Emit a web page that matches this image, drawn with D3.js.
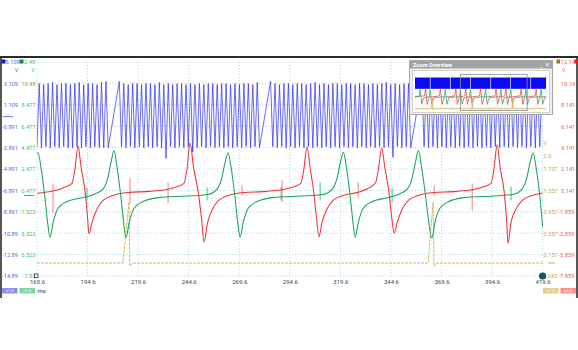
<!DOCTYPE html>
<html>
<head>
<meta charset="utf-8">
<script src="https://cdn.jsdelivr.net/npm/d3@7/dist/d3.min.js"></script>
<style>
  html, body { margin: 0; padding: 0; background: #fff; }
  svg { display: block; }
</style>
</head>
<body>
<svg id="scope" width="578" height="350"></svg>
<script>
// ---------------- data ----------------
const timeTicks = [169.6, 194.6, 219.6, 244.6, 269.6, 294.6, 319.6, 344.6, 369.6, 394.6, 419.6];

const blueTickLabels   = ["3.109", "1.109", "-0.891", "-2.891", "-4.891", "-6.891", "-8.891", "-10.89", "-12.89", "-14.89"];
const greenTickLabels  = ["10.48", "8.477", "6.477", "4.477", "2.477", "0.477", "-1.523", "-3.523", "-5.523", "-7.52"];
const redTickLabels    = ["10.14", "8.141", "6.141", "4.141", "2.141", "0.141", "-1.859", "-3.859", "-5.859", "-7.859"];
const yellowTickLabels = ["2.0", "1.757", "1.357", "0.957", "0.557", "0.157", "-0.243"];

// channel A (blue): samples every 1.1 ms from 169.6 ms, null = no sample
const blueStart = 169.6;
const blueStep = 1.1;
const blueValues = [
  -2.8, 3.1, -2.9, 3.0, -2.8, 3.1, -2.9, 3.2, -2.8, 3.0,
  -2.9, 3.1, -2.8, 3.1, -2.9, 3.0, -2.9, 3.1, -2.8, 3.2,
  -2.9, 3.0, -2.8, 3.1, -2.9, 3.1, -2.8, 3.0, -2.9, 3.2,
  -2.9, 3.3, -2.9, null, null, null, null, 3.3, -2.8, 3.1,
  -2.9, 3.0, -2.8, 3.1, -2.9, 3.1, -2.8, 3.0, -2.9, 3.1,
  -2.8, 3.1, -2.9, 3.0, -2.8, 3.2, -2.9, 3.0, -3.9, 3.1,
  -2.8, 3.0, -2.9, 3.1, -2.8, 3.1, -2.9, 3.0, -2.8, 3.1,
  -3.3, 3.0, -2.9, 3.1, -2.8, 3.0, -2.9, 3.1, -2.8, 3.1,
  -2.9, 3.0, -2.8, 3.1, -2.9, 3.1, -2.8, 3.0, -2.9, 3.1,
  -2.8, 3.0, -2.9, 3.1, -2.8, 3.1, -2.9, 3.0, -2.8, 3.2,
  -2.9, null, null, null, null, 3.3, -2.8, 3.1, -2.9, 3.0,
  -2.8, 3.1, -2.9, 3.1, -2.8, 3.0, -2.9, 3.1, -2.8, 3.1,
  -2.9, 3.0, -2.8, 3.1, -2.9, 3.2, -2.8, 3.0, -2.9, 3.1,
  -2.8, 3.0, -2.9, 3.1, -2.8, 3.1, -2.9, 3.0, -2.8, 3.1,
  -2.9, 3.1, -2.8, 3.0, -2.9, 3.1, -2.8, 3.1, -2.9, 3.0,
  -2.8, 3.1, -2.9, 3.0, -2.8, 3.1, -2.9, 3.2, -2.8, 3.0,
  -3.8, 3.1, -2.8, 3.0, -2.9, 3.1, -2.8, 3.1, -2.9, null,
  null, null, null, 3.3, -2.8, 3.1, -2.9, 3.0, -2.8, 3.1,
  -2.9, 3.1, -2.8, 3.0, -2.9, 3.1, -2.8, 3.1, -2.9, 3.0,
  -2.8, 3.1, -2.9, 3.0, -2.8, 3.2, -2.9, 3.0, -2.8, 3.1,
  -2.9, 3.1, -2.8, 3.0, -2.9, 3.1, -2.8, 3.1, -2.9, 3.0,
  -2.8, 3.1, -2.9, 3.0, -2.8, 3.1, -2.9, 3.1, -2.8, 3.0,
  -2.9, 3.1, -2.8, 3.0, -2.9, 3.1, -2.8, 3.1
];

// channel D (red): [ms, V]
const redPoints = [
  [169.6, -0.12], [178.0, 0.1], [182.0, 0.35], [186.9, 0.8], [188.4, 2.2], [189.9, 4.3], [191.4, 2.3], [193.4, 0.0],
  [194.6, -2.4], [195.3, -3.9], [196.8, -2.85], [199.3, -1.6], [202.3, -0.8], [207.2, -0.33], [215.0, -0.05],
  [225.3, 0.05], [237.3, 0.4], [242.3, 0.8], [243.8, 2.2], [245.3, 4.6], [247.0, 2.3], [249.3, 0.0], [251.0, -2.6],
  [252.2, -4.7], [253.9, -2.9], [256.4, -1.6], [259.4, -0.8], [264.3, -0.33], [272.0, -0.05],
  [283.1, 0.05], [295.1, 0.4], [300.1, 0.8], [301.6, 2.2], [303.1, 4.2], [304.6, 2.3], [306.4, 0.0], [307.8, -2.4],
  [309.0, -4.2], [310.5, -2.85], [313.0, -1.6], [316.0, -0.8], [320.9, -0.33], [327.9, -0.05],
  [333.0, 0.3], [337.0, 0.85], [338.5, 2.2], [340.0, 4.1], [341.6, 2.3], [343.6, 0.0], [345.0, -2.4], [346.2, -3.85],
  [347.7, -2.85], [350.2, -1.6], [353.2, -0.8], [358.1, -0.33], [366.0, -0.05],
  [377.1, 0.05], [389.1, 0.4], [394.1, 0.8], [395.6, 2.2], [397.1, 4.4], [398.6, 2.3], [400.6, 0.0], [401.8, -2.6],
  [402.5, -4.8], [404.0, -2.85], [406.5, -1.6], [409.5, -0.8], [414.4, -0.33], [419.6, -0.1]
];

// channel B (green): [ms, V]
const greenPoints = [
  [169.6, 3.9], [170.1, 4.0], [171.6, 2.6], [173.4, 0.0], [174.9, -2.6], [176.0, -3.9], [177.6, -2.5], [180.0, -1.2],
  [184.0, -0.6], [192.0, -0.2],
  [197.7, 0.1], [202.2, 0.6], [204.4, 1.5], [206.1, 3.0], [207.7, 4.2], [209.2, 2.6], [211.0, 0.0], [212.5, -2.6],
  [213.6, -3.95], [215.2, -2.5], [217.6, -1.2], [221.6, -0.6], [229.6, -0.2], [243.6, -0.05],
  [254.1, 0.1], [258.6, 0.6], [260.8, 1.5], [262.5, 3.0], [264.1, 4.0], [265.6, 2.6], [267.4, 0.0], [268.9, -2.6],
  [270.0, -3.9], [271.6, -2.5], [274.0, -1.2], [278.0, -0.6], [286.0, -0.2], [300.0, -0.05],
  [311.1, 0.1], [315.6, 0.6], [317.8, 1.5], [319.5, 3.0], [321.1, 4.05], [322.6, 2.6], [324.4, 0.0], [325.9, -2.6],
  [326.9, -3.9], [328.5, -2.5], [330.9, -1.2], [334.9, -0.6], [342.9, -0.2],
  [348.2, 0.1], [352.7, 0.6], [354.9, 1.5], [356.6, 3.0], [358.2, 4.2], [359.8, 2.6], [361.7, 0.0], [363.4, -2.6],
  [364.8, -4.0], [366.4, -2.5], [368.8, -1.2], [372.8, -0.6], [380.8, -0.2], [395.0, -0.05],
  [404.9, 0.1], [409.4, 0.6], [411.6, 1.5], [413.3, 3.0], [414.9, 4.0], [416.4, 2.6], [418.2, 0.0], [419.6, -2.9]
];

// channel C (yellow): [ms, V]
const yellowPoints = [
  [169.6, 0.0], [212.1, 0.0], [215.1, 1.14], [215.5, -0.06], [217.0, 0.0],
  [363.0, 0.0], [365.5, 1.14], [365.9, -0.06], [367.4, 0.0], [419.6, 0.0]
];

// short spikes on the red and green traces: [ms, high V, low V]
const redGlitches = [
  [177.5, 0.79, -2.01], [215.6, 1.26, -1.07], [234.4, 0.89, -1.07], [271.0, 0.61, -0.33],
  [290.8, 1.08, -0.98], [328.4, 0.89, -0.61], [366.0, 0.61, -0.33], [384.8, 0.79, -1.73]
];
const greenGlitches = [
  [194.3, 0.76, -0.46], [253.7, 0.76, -0.46], [290.3, 0.85, -0.46],
  [309.6, 1.23, -0.46], [345.2, 0.66, -0.65], [404.0, 0.85, -0.46]
];

// whole-capture overview (ms)
const ovBlueGaps = [57.3, 132.5, 207.7, 282.9, 357.2, 432.5];
const ovRedPeaks = [39.5, 95.0, 152.6, 189.9, 245.3, 303.1, 340.0, 397.1, 453.5];
const ovGreenPeaks = [19.5, 56.6, 113.5, 170.1, 207.7, 264.1, 321.1, 358.2, 414.9, 471.8];
const ovYellowPulses = [64.6, 215.1, 365.5];

// ---------------- drawing ----------------
const FONT = "Roboto, 'Liberation Sans', Arial, sans-serif";
const BLUE = "#3030f4", GREEN = "#17a457", RED = "#f0323a", YELLOW = "#d6b45c";
const BLUE_T = "#5f5fd8", GREEN_T = "#45b878", RED_T = "#ec5b5b", YELLOW_T = "#c7a74a";
const SIDE_FONT = 5.7;

const svg = d3.select("#scope").attr("font-family", FONT);
const plot = { left: 37, right: 542.6, top: 62, bottom: 276 };

const x = d3.scaleLinear().domain([timeTicks[0], timeTicks[timeTicks.length - 1]]).range([plot.left, plot.right]);
const yBlue = d3.scaleLinear().domain([-14.891, 5.109]).range([plot.bottom, plot.top]);
const yGreen = d3.scaleLinear().domain([-7.523, 12.477]).range([plot.bottom, plot.top]);
const yRed = d3.scaleLinear().domain([-7.859, 12.141]).range([plot.bottom, plot.top]);
const yYellow = d3.scaleLinear().domain([-0.243, 3.757]).range([plot.bottom, plot.top]);

// frame
const frame = svg.append("g").attr("stroke", "#2a2a2a");
frame.append("line").attr("x1", 0).attr("x2", 578).attr("y1", 57).attr("y2", 57).attr("stroke-width", 2);
frame.append("line").attr("x1", 1).attr("x2", 1).attr("y1", 57).attr("y2", 298).attr("stroke-width", 1.6);
frame.append("line").attr("x1", 577).attr("x2", 577).attr("y1", 57).attr("y2", 298).attr("stroke-width", 1.6);

// grid
const grid = svg.append("g").attr("stroke", "#9fd0e3").attr("stroke-width", 0.8).attr("stroke-dasharray", "1.2,1.8");
grid.selectAll("line.v").data(timeTicks).join("line").attr("class", "v")
  .attr("x1", d => x(d)).attr("x2", d => x(d)).attr("y1", plot.top).attr("y2", plot.bottom);
grid.selectAll("line.h").data([5.109, ...blueTickLabels.map(Number)]).join("line").attr("class", "h")
  .attr("x1", plot.left).attr("x2", plot.right).attr("y1", d => yBlue(d)).attr("y2", d => yBlue(d));

// axis labels
function labels(axis, tx, ty, color, size) {
  const g = svg.append("g").attr("transform", `translate(${tx},${ty})`).call(axis);
  g.select(".domain").remove();
  g.selectAll(".tick line").remove();
  g.attr("font-family", FONT).attr("font-size", size).attr("color", color);
  return g;
}
labels(d3.axisLeft(yBlue).tickValues(blueTickLabels.map(Number)).tickFormat((d, i) => blueTickLabels[i]).tickSize(0).tickPadding(0), 18, 0, BLUE_T, SIDE_FONT);
labels(d3.axisLeft(yGreen).tickValues(greenTickLabels.map(Number)).tickFormat((d, i) => greenTickLabels[i]).tickSize(0).tickPadding(0), 35.5, 0, GREEN_T, SIDE_FONT);
const gr = labels(d3.axisRight(yRed).tickValues(redTickLabels.map(Number)).tickFormat((d, i) => redTickLabels[i]).tickSize(0).tickPadding(0), 561, 0, RED_T, SIDE_FONT);
gr.selectAll(".tick text").attr("x", d => d < 0 ? -2.5 : 0);
const gy = labels(d3.axisRight(yYellow).tickValues(yellowTickLabels.map(Number)).tickFormat((d, i) => yellowTickLabels[i]).tickSize(0).tickPadding(0), 543.5, 0, YELLOW_T, SIDE_FONT);
gy.selectAll(".tick text").attr("x", d => d < 0 ? -2 : 0);
labels(d3.axisBottom(x).tickValues(timeTicks).tickFormat(d3.format(".1f")).tickSize(0).tickPadding(0), 0, 279.8, "#444", 6);

// header and units
const hdr = svg.append("g").attr("font-size", SIDE_FONT);
hdr.append("rect").attr("x", 1.5).attr("y", 59.5).attr("width", 4).attr("height", 4).attr("fill", "#1414d8");
hdr.append("text").attr("x", 5.5).attr("y", 61.8).attr("dy", "0.35em").attr("fill", BLUE_T).text("5.109");
hdr.append("rect").attr("x", 19.5).attr("y", 59.5).attr("width", 4).attr("height", 4).attr("fill", "#0c8a40");
hdr.append("text").attr("x", 24).attr("y", 61.8).attr("dy", "0.35em").attr("fill", GREEN_T).text("2.48");
hdr.append("text").attr("x", 16.5).attr("y", 70.5).attr("dy", "0.35em").attr("text-anchor", "middle").attr("fill", BLUE_T).text("V");
hdr.append("text").attr("x", 33).attr("y", 70.5).attr("dy", "0.35em").attr("text-anchor", "middle").attr("fill", GREEN_T).text("V");
hdr.append("rect").attr("x", 556.5).attr("y", 59.5).attr("width", 3.5).attr("height", 4).attr("fill", "#9a7a1a");
hdr.append("text").attr("x", 560.8).attr("y", 61.8).attr("dy", "0.35em").attr("fill", RED_T).text("12.14");
hdr.append("rect").attr("x", 574.5).attr("y", 59.5).attr("width", 3.5).attr("height", 4).attr("fill", "#e81818");
hdr.append("text").attr("x", 563.5).attr("y", 70.5).attr("dy", "0.35em").attr("text-anchor", "middle").attr("fill", RED_T).text("V");
hdr.append("text").attr("x", 545).attr("y", 143).attr("dy", "0.35em").attr("text-anchor", "middle").attr("fill", YELLOW_T).text("V");

// channel zero markers
const zm = svg.append("g").attr("stroke-width", 1);
zm.append("line").attr("x1", 3).attr("x2", 13).attr("y1", yBlue(0)).attr("y2", yBlue(0)).attr("stroke", "#7070e0");
zm.append("line").attr("x1", 24).attr("x2", 34).attr("y1", yGreen(0)).attr("y2", yGreen(0)).attr("stroke", "#3fb571");
zm.append("line").attr("x1", 548).attr("x2", 555).attr("y1", yYellow(0)).attr("y2", yYellow(0)).attr("stroke", "#c9a74a");

// traces
svg.append("clipPath").attr("id", "plotClip").append("rect")
  .attr("x", plot.left).attr("y", plot.top - 4).attr("width", plot.right - plot.left + 1).attr("height", plot.bottom - plot.top + 8);
const traces = svg.append("g").attr("clip-path", "url(#plotClip)").attr("fill", "none");

const smooth = y => d3.line().x(d => x(d[0])).y(d => y(d[1])).curve(d3.curveMonotoneX);

traces.append("path").datum(yellowPoints)
  .attr("d", d3.line().x(d => x(d[0])).y(d => yYellow(d[1])))
  .attr("stroke", YELLOW).attr("stroke-width", 1).attr("stroke-dasharray", "3,1");

traces.selectAll("line.rg").data(redGlitches).join("line").attr("class", "rg")
  .attr("x1", d => x(d[0])).attr("x2", d => x(d[0])).attr("y1", d => yRed(d[1])).attr("y2", d => yRed(d[2]))
  .attr("stroke", "#f27d84").attr("stroke-width", 1);
traces.selectAll("line.gg").data(greenGlitches).join("line").attr("class", "gg")
  .attr("x1", d => x(d[0])).attr("x2", d => x(d[0])).attr("y1", d => yGreen(d[1])).attr("y2", d => yGreen(d[2]))
  .attr("stroke", "#4cc07e").attr("stroke-width", 1);

traces.append("path").datum(redPoints).attr("d", smooth(yRed)).attr("stroke", RED).attr("stroke-width", 1.05);
traces.append("path").datum(greenPoints).attr("d", smooth(yGreen)).attr("stroke", GREEN).attr("stroke-width", 1.05);

const blueSamples = blueValues
  .map((v, i) => [blueStart + i * blueStep, v])
  .filter(d => d[1] !== null);
traces.append("path").datum(blueSamples)
  .attr("d", d3.line().x(d => x(d[0])).y(d => yBlue(d[1])))
  .attr("stroke", BLUE).attr("stroke-width", 0.8).attr("stroke-opacity", 0.9);

// cursor markers
svg.append("rect").attr("x", 34.5).attr("y", 274).attr("width", 3.5).attr("height", 3.5)
  .attr("fill", "#fff").attr("stroke", "#333").attr("stroke-width", 0.8);
svg.append("circle").attr("cx", plot.right).attr("cy", plot.bottom).attr("r", 3.6).attr("fill", "#0e5a5c");

// bottom scale boxes
const boxes = [
  { x: 2, fill: "#8d8df0", label: "x1.0" },
  { x: 19.5, fill: "#7fd4a6", label: "x1.0" },
  { x: 543, fill: "#e3d08e", label: "x1.0" },
  { x: 560.5, fill: "#ff8f8f", label: "x2.0" }
];
const bx = svg.append("g").selectAll("g").data(boxes).join("g");
bx.append("rect").attr("x", d => d.x).attr("y", 288).attr("width", 15.5).attr("height", 5.5).attr("fill", d => d.fill);
bx.append("text").attr("x", d => d.x + 7.75).attr("y", 290.9).attr("dy", "0.35em").attr("text-anchor", "middle")
  .attr("font-size", 4.2).attr("fill", "#fff").text(d => d.label);
svg.append("text").attr("x", 37.5).attr("y", 291).attr("dy", "0.35em").attr("font-size", 6).attr("fill", "#333").text("ms");

// zoom overview panel
const ov = { left: 415, right: 546, top: 74, bottom: 111 };
const ox = d3.scaleLinear().domain([0, 490]).range([ov.left, ov.right]);
const oyRed = yRed.copy().range([ov.bottom, ov.top]);
const oyGreen = yGreen.copy().range([ov.bottom, ov.top]);
const oyBlue = yBlue.copy().range([ov.bottom, ov.top]);
const oyYellow = yYellow.copy().range([ov.bottom, ov.top]);

const panel = svg.append("g");
panel.append("rect").attr("x", 409.5).attr("y", 60.5).attr("width", 143).attr("height", 54)
  .attr("fill", "#eeeeee").attr("stroke", "#a6a6a6");
panel.append("rect").attr("x", 410).attr("y", 61).attr("width", 142).attr("height", 7.5).attr("fill", "#a2a2a2");
panel.append("text").attr("x", 413).attr("y", 64.9).attr("dy", "0.35em").attr("font-size", 5.6).attr("font-weight", "bold")
  .attr("fill", "#fff").text("Zoom Overview");
panel.append("text").attr("x", 540).attr("y", 64.9).attr("dy", "0.35em").attr("font-size", 6).attr("fill", "#fff").text("_");
panel.append("text").attr("x", 545.5).attr("y", 64.9).attr("dy", "0.35em").attr("font-size", 6.5).attr("fill", "#fff").text("×");
panel.append("rect").attr("x", 412.5).attr("y", 70.5).attr("width", 137).attr("height", 42)
  .attr("fill", "#fff").attr("stroke", "#d2d2d2");

const og = panel.append("g").attr("stroke", "#c6e2ee").attr("stroke-width", 0.6).attr("stroke-dasharray", "1,1.5");
og.selectAll("line.ov").data([0, 70, 140, 210, 280, 350, 420, 490]).join("line").attr("class", "ov")
  .attr("x1", d => ox(d)).attr("x2", d => ox(d)).attr("y1", ov.top).attr("y2", ov.bottom);
og.selectAll("line.oh").data([-12.891, -8.891, -4.891, -0.891]).join("line").attr("class", "oh")
  .attr("x1", ov.left).attr("x2", ov.right).attr("y1", d => oyBlue(d)).attr("y2", d => oyBlue(d));

panel.append("rect").attr("x", ox(0)).attr("width", ox(490) - ox(0))
  .attr("y", oyBlue(3.2)).attr("height", oyBlue(-2.9) - oyBlue(3.2)).attr("fill", "#0a0af5");
panel.selectAll("line.gap").data(ovBlueGaps).join("line").attr("class", "gap")
  .attr("x1", d => ox(d)).attr("x2", d => ox(d)).attr("y1", oyBlue(3.3)).attr("y2", oyBlue(-3.0))
  .attr("stroke", "#cfd4ff").attr("stroke-width", 0.8);

function pulseTrain(peaks, hi, lo) {
  const pts = [[0, 0]];
  peaks.forEach(p => { pts.push([p - 4, 0.3], [p, hi], [p + 6, lo], [p + 13, -0.4]); });
  pts.push([490, 0]);
  return pts.filter(d => d[0] >= 0 && d[0] <= 490);
}
panel.append("path").datum(pulseTrain(ovRedPeaks, 4.3, -4.3))
  .attr("d", d3.line().x(d => ox(d[0])).y(d => oyRed(d[1]))).attr("fill", "none").attr("stroke", RED).attr("stroke-width", 0.7);
panel.append("path").datum(pulseTrain(ovGreenPeaks, 4.1, -3.9))
  .attr("d", d3.line().x(d => ox(d[0])).y(d => oyGreen(d[1]))).attr("fill", "none").attr("stroke", GREEN).attr("stroke-width", 0.7);

const oyPts = [[0, 0]];
ovYellowPulses.forEach(p => oyPts.push([p - 1.5, 0], [p, 1.14], [p + 0.4, 0], [p + 2, 0]));
oyPts.push([490, 0]);
panel.append("path").datum(oyPts)
  .attr("d", d3.line().x(d => ox(d[0])).y(d => oyYellow(d[1]))).attr("fill", "none").attr("stroke", YELLOW).attr("stroke-width", 0.9);

panel.append("rect").attr("x", ox(timeTicks[0])).attr("y", ov.top + 0.5)
  .attr("width", ox(timeTicks[timeTicks.length - 1]) - ox(timeTicks[0])).attr("height", ov.bottom - ov.top - 1)
  .attr("fill", "none").attr("stroke", "#8f8f8f").attr("stroke-width", 0.8);
</script>
</body>
</html>
